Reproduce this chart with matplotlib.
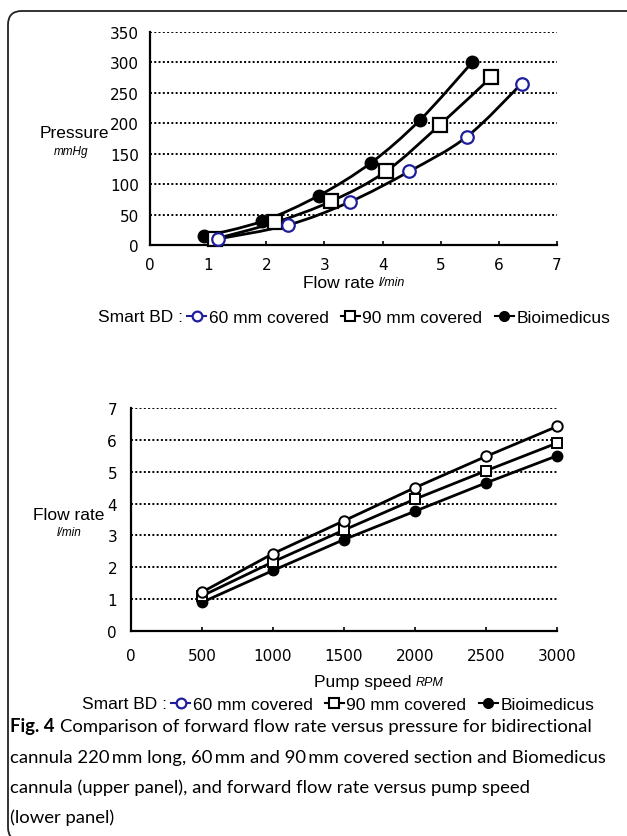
import matplotlib
matplotlib.use("Agg")
import matplotlib.pyplot as plt
from matplotlib.path import Path
from matplotlib.patches import PathPatch, FancyBboxPatch
from matplotlib.lines import Line2D
import numpy as np

plt.rcParams['font.family'] = ['Liberation Sans', 'DejaVu Sans']

# upper panel: pressure (mmHg) vs flow rate (l/min)
flow_60 = [1.17, 2.38, 3.44, 4.46, 5.45, 6.39]
pres_60 = [10, 33, 71, 121, 178, 265]
flow_90 = [1.12, 2.15, 3.12, 4.06, 4.98, 5.87]
pres_90 = [10, 37, 72, 121, 197, 276]
flow_bio = [0.93, 1.93, 2.90, 3.80, 4.64, 5.54]
pres_bio = [14, 39, 81, 135, 205, 300]

# lower panel: flow rate (l/min) vs pump speed (RPM)
rpm = [500, 1000, 1500, 2000, 2500, 3000]
lflow_60 = [1.22, 2.43, 3.46, 4.50, 5.48, 6.42]
lflow_90 = [1.10, 2.17, 3.17, 4.14, 5.03, 5.90]
lflow_bio = [0.90, 1.90, 2.87, 3.76, 4.65, 5.50]

labels = ['60 mm covered', '90 mm covered', 'Bioimedicus']
blue = '#1f1f9e'

W, H = 627, 837
fig = plt.figure(figsize=(W / 100, H / 100), dpi=100)


def fx(px):
    return px / W


def fy(py):
    return 1 - py / H


# frame (only top and left visible)
frame = FancyBboxPatch((fx(8), fy(842)), fx(640), fy(12) - fy(842),
                       boxstyle='round,pad=0,rounding_size=0.022',
                       transform=fig.transFigure, fill=False,
                       edgecolor='#222222', linewidth=1.3,
                       mutation_aspect=W / H)
fig.patches.append(frame)


def smooth_path(xs, ys, t=1 / 6):
    # cubic bezier through the points (excel-like smoothed line)
    pts = np.column_stack([xs, ys]).astype(float)
    n = len(pts)
    verts = [pts[0]]
    codes = [Path.MOVETO]
    for i in range(n - 1):
        p0 = pts[i - 1] if i > 0 else pts[i]
        p1 = pts[i]
        p2 = pts[i + 1]
        p3 = pts[i + 2] if i + 2 < n else pts[i + 1]
        c1 = p1 + (p2 - p0) * t
        c2 = p2 - (p3 - p1) * t
        verts += [c1, c2, p2]
        codes += [Path.CURVE4] * 3
    return Path(verts, codes)


def style_axes(ax):
    ax.spines['top'].set_visible(False)
    ax.spines['right'].set_visible(False)
    ax.spines['left'].set_linewidth(1.6)
    ax.spines['bottom'].set_linewidth(1.6)
    ax.yaxis.grid(True, color='black', linestyle=(0, (1.0, 1.2)), linewidth=1.4)
    ax.set_axisbelow(True)
    ax.tick_params(axis='x', direction='in', length=3, width=1.2, labelsize=11, pad=9)
    ax.tick_params(axis='y', length=0, labelsize=11, pad=8)
    for lab in ax.get_xticklabels() + ax.get_yticklabels():
        lab.set_family('DejaVu Sans')
    ax.patch.set_alpha(0)


def label_with_unit(x0, y0, main, unit):
    t = fig.text(fx(x0), fy(y0), main, ha='left', va='center', fontsize=12.5)
    fig.canvas.draw()
    bb = t.get_window_extent()
    fig.text((bb.x1 + 4) / W, fy(y0 + 0.5), unit, ha='left', va='center',
             fontsize=9, style='italic')


# ---------- upper panel ----------
ax1 = fig.add_axes([fx(150), fy(246), fx(557) - fx(150), fy(33) - fy(246)])
ax1.set_xlim(0, 7)
ax1.set_ylim(0, 350)
ax1.set_xticks(range(0, 8))
ax1.set_yticks(range(0, 351, 50))
style_axes(ax1)

for xs, ys in [(flow_bio, pres_bio), (flow_90, pres_90), (flow_60, pres_60)]:
    ax1.add_patch(PathPatch(smooth_path(xs, ys), fill=False, edgecolor='black',
                            linewidth=2.0, zorder=3))
ax1.plot(flow_bio, pres_bio, 'o', ms=9, mfc='black', mec='black', zorder=4, clip_on=False)
ax1.plot(flow_90, pres_90, 's', ms=9.5, mfc='white', mec='black', mew=1.6, zorder=5, clip_on=False)
ax1.plot(flow_60, pres_60, 'o', ms=9, mfc='white', mec=blue, mew=1.6, zorder=5, clip_on=False)

fig.text(fx(74), fy(133), 'Pressure', ha='center', va='center', fontsize=12.5)
fig.text(fx(71), fy(152), 'mmHg', ha='center', va='center', fontsize=8.5, style='italic')
label_with_unit(303, 283, 'Flow rate', 'l/min')

# ---------- lower panel ----------
ax2 = fig.add_axes([fx(131), fy(632), fx(557) - fx(131), fy(409) - fy(632)])
ax2.set_xlim(0, 3000)
ax2.set_ylim(0, 7)
ax2.set_xticks(range(0, 3001, 500))
ax2.set_yticks(range(0, 8))
style_axes(ax2)
ax2.tick_params(axis='y', pad=10)
ax2.tick_params(axis='x', pad=12)

ax2.plot(rpm, lflow_bio, '-o', color='black', lw=2.0, ms=7.5, mfc='black', mec='black', zorder=4, clip_on=False)
ax2.plot(rpm, lflow_90, '-s', color='black', lw=2.0, ms=7.5, mfc='white', mec='black', mew=1.4, zorder=5, clip_on=False)
ax2.plot(rpm, lflow_60, '-o', color='black', lw=2.0, ms=7.5, mfc='white', mec='black', mew=1.4, zorder=6, clip_on=False)

fig.text(fx(69), fy(516), 'Flow rate', ha='center', va='center', fontsize=12.5)
fig.text(fx(69), fy(533), 'l/min', ha='center', va='center', fontsize=8.5, style='italic')
label_with_unit(314, 683, 'Pump speed', 'RPM')


# ---------- legends ----------
def legend_handles():
    return [
        Line2D([], [], color=blue, lw=1.5, marker='o', ms=7, mfc='white', mec=blue, mew=1.6),
        Line2D([], [], color='black', lw=1.5, marker='s', ms=7, mfc='white', mec='black', mew=1.5),
        Line2D([], [], color='black', lw=1.5, marker='o', ms=7, mfc='black', mec='black'),
    ]


for x0, y0 in [(98, 318), (82, 705)]:
    st = fig.text(fx(x0), fy(y0), 'Smart BD :', ha='left', va='center', fontsize=12.5)
    fig.canvas.draw()
    bb = st.get_window_extent()
    fig.legend(legend_handles(), labels, loc='center left',
               bbox_to_anchor=((bb.x1 + 4) / W, fy(y0)), ncol=3, frameon=False,
               fontsize=12.5, handlelength=1.1, handletextpad=0.15,
               columnspacing=0.7, borderaxespad=0, borderpad=0)

# ---------- caption ----------
cap_font = ['Lato', 'DejaVu Sans']
cs = 13.3
cy = [727, 758, 788, 818]
b = fig.text(fx(10), fy(cy[0]), 'Fig. 4', ha='left', va='center', fontsize=cs,
             fontweight='bold', family=cap_font)
fig.canvas.draw()
bb = b.get_window_extent()
fig.text((bb.x1 + 5) / W, fy(cy[0]),
         'Comparison of forward flow rate versus pressure for bidirectional',
         ha='left', va='center', fontsize=cs, family=cap_font)
for yy, line in zip(cy[1:], [
        'cannula 220\u2009mm long, 60\u2009mm and 90\u2009mm covered section and Biomedicus',
        'cannula (upper panel), and forward flow rate versus pump speed',
        '(lower panel)']):
    fig.text(fx(10), fy(yy), line, ha='left', va='center', fontsize=cs, family=cap_font)

fig.savefig('out.png', dpi=100)
